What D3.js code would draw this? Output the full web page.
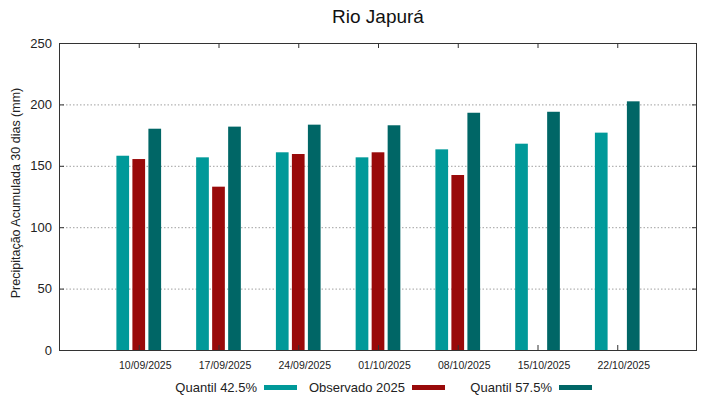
<!DOCTYPE html>
<html><head><meta charset="utf-8">
<script src="https://cdn.jsdelivr.net/npm/d3@7"></script>
<style>body{margin:0;background:#fff}svg{display:block;font-family:"Liberation Sans",Arial,sans-serif}</style>
</head><body>
<svg id="c" width="719" height="399"></svg>
<script>
const categories = ["10/09/2025","17/09/2025","24/09/2025","01/10/2025","08/10/2025","15/10/2025","22/10/2025"];
const quantil425 = [158.2,156.9,161.0,156.9,163.4,168.0,177.0];
const observado2025 = [155.5,133.0,159.6,161.0,142.5,null,null];
const quantil575 = [180.2,181.9,183.5,183.0,193.2,194.0,202.5];
const yTicks = [0,50,100,150,200,250];
const seriesNames = ["Quantil 42.5%","Observado 2025","Quantil 57.5%"];
const colors = ["#009999","#990a0a","#006666"];

const svg = d3.select("#c");
const L=59,R=697,T=43,B=350;
const x = d3.scaleLinear().domain([0,categories.length+1]).range([L,R]);
const y = d3.scaleLinear().domain([0,250]).range([B,T]);

// grid
svg.append("g").selectAll("line").data(yTicks.filter(d=>d>0&&d<250)).join("line")
  .attr("x1",L).attr("x2",R).attr("y1",d=>y(d)+0.5).attr("y2",d=>y(d)+0.5)
  .attr("stroke","#a0a0a0").attr("stroke-width",1).attr("stroke-dasharray","1.5,2");

// bars
const series=[quantil425,observado2025,quantil575];
const bw=12.7, pitch=16;
series.forEach((s,si)=>{
  svg.append("g").selectAll("rect").data(s.map((v,i)=>({v,i})).filter(d=>d.v!=null)).join("rect")
    .attr("x",d=>x(d.i+1)+(si-1)*pitch-bw/2)
    .attr("y",d=>y(d.v)).attr("width",bw).attr("height",d=>B-y(d.v))
    .attr("fill",colors[si]);
});

// frame
svg.append("rect").attr("x",L+0.5).attr("y",T+0.5).attr("width",R-L-1).attr("height",B-T)
  .attr("fill","none").attr("stroke","#333").attr("stroke-width",1);

// y axis
const ya = svg.append("g").attr("transform",`translate(${L},0)`)
  .call(d3.axisLeft(y).tickValues(yTicks).tickSize(-5).tickPadding(7));
ya.select(".domain").remove();
ya.selectAll("text").attr("font-size",13).attr("fill","#222").attr("font-family","Liberation Sans, Arial, sans-serif");
ya.selectAll("line").attr("stroke","#333");
const yr = svg.append("g").attr("transform",`translate(${R},0)`)
  .call(d3.axisRight(y).tickValues(yTicks).tickSize(-5).tickFormat(""));
yr.select(".domain").remove(); yr.selectAll("line").attr("stroke","#333");

// x axis
const xa = svg.append("g").attr("transform",`translate(0,${B})`)
  .call(d3.axisBottom(x).tickValues(d3.range(1,categories.length+1)).tickFormat(d=>categories[d-1]).tickSize(-5).tickPadding(12));
xa.select(".domain").remove();
xa.selectAll("text").attr("font-size",10.5).attr("fill","#222").attr("dx",6).attr("font-family","Liberation Sans, Arial, sans-serif");
xa.selectAll("line").attr("stroke","#333");
const xt = svg.append("g").attr("transform",`translate(0,${T})`)
  .call(d3.axisTop(x).tickValues(d3.range(1,categories.length+1)).tickSize(-5).tickFormat(""));
xt.select(".domain").remove(); xt.selectAll("line").attr("stroke","#333");

// title
svg.append("text").attr("x",378).attr("y",23).attr("text-anchor","middle")
  .attr("font-size",19).attr("fill","#111").text("Rio Japurá");
// y label
svg.append("text").attr("transform","translate(20,193) rotate(-90)").attr("text-anchor","middle")
  .attr("font-size",12.5).attr("fill","#222").text("Precipitação Acumulada 30 dias (mm)");

// legend
const legX=[264,412,559];
seriesNames.forEach((n,i)=>{
  svg.append("text").attr("x",legX[i]-7).attr("y",392).attr("text-anchor","end")
    .attr("font-size",13).attr("fill","#222").text(n);
  svg.append("rect").attr("x",legX[i]).attr("y",385).attr("width",33).attr("height",5).attr("fill",colors[i]);
});
</script>
</body></html>
